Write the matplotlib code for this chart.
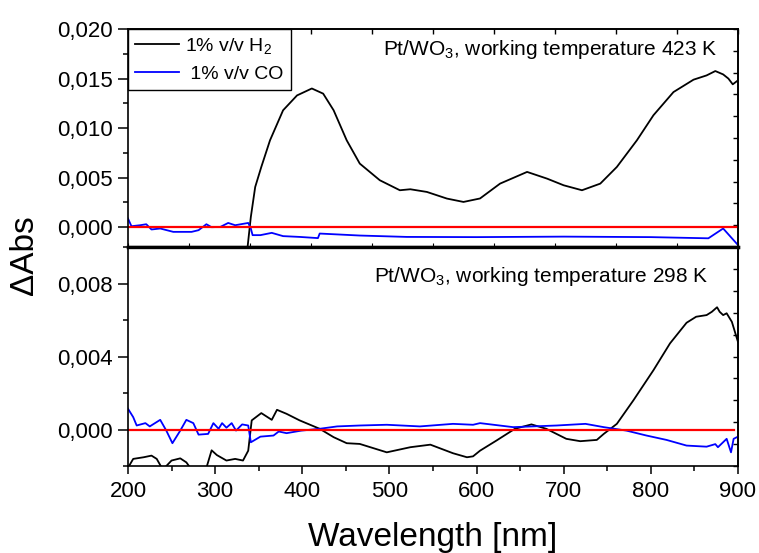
import numpy as np
import matplotlib
matplotlib.use('Agg')
import matplotlib.pyplot as plt
from matplotlib.ticker import MultipleLocator, FuncFormatter

plt.rcParams['font.family'] = ['Liberation Sans', 'DejaVu Sans']
plt.rcParams['mathtext.fontset'] = 'custom'
plt.rcParams['mathtext.rm'] = 'Liberation Sans'
plt.rcParams['mathtext.it'] = 'Liberation Sans'

# top panel, 423 K
wl_h2_hot = [337, 341, 346, 353, 363, 378, 394, 411, 424, 436, 451, 466, 489, 512, 524,
             543, 566, 585, 604, 627, 658, 681, 700, 721, 742, 761, 784, 803, 826, 849,
             864, 874, 883, 889, 894, 900]
h2_hot = [-0.0022, 0.00104, 0.00406, 0.00608, 0.00877, 0.0118, 0.0133, 0.0140, 0.01348,
          0.0118, 0.00877, 0.00642, 0.00474, 0.00373, 0.00383, 0.00356, 0.00289, 0.00255,
          0.0029, 0.0044, 0.00558, 0.0049, 0.00423, 0.00373, 0.0044, 0.00608, 0.00877,
          0.0113, 0.01364, 0.01489, 0.01532, 0.01576, 0.01542, 0.0150, 0.01442, 0.01482]

wl_co_hot = [200, 204, 214, 221, 227, 237, 252, 273, 281, 290, 296, 306, 315, 323, 338,
             341, 343, 352, 365, 378, 397, 418, 420, 443, 466, 520, 600, 700, 800, 866,
             883, 900]
co_hot = [0.00088, 0.0001, 0.0002, 0.0003, -0.00023, -0.00013, -0.00047, -0.00047,
          -0.0003, 0.0003, 0.0, 0.00003, 0.00043, 0.0002, 0.00043, -0.00013, -0.0008,
          -0.0008, -0.00057, -0.0009, -0.00098, -0.0011, -0.00064, -0.00074, -0.00084,
          -0.00098, -0.001, -0.00095, -0.001, -0.00112, -0.00013, -0.0018]

# bottom panel, 298 K
wl_h2_rt = [200, 206, 218, 227, 233, 240, 250, 260, 267, 273, 290, 296, 302, 313, 323,
            332, 338, 342, 353, 365, 371, 382, 397, 420, 436, 451, 466, 497, 524, 547,
            573, 589, 596, 604, 623, 644, 663, 680, 703, 719, 738, 746, 761, 780, 803,
            822, 841, 852, 864, 870, 876, 879, 883, 887, 893, 900]
h2_rt = [-0.0021, -0.00161, -0.00152, -0.00143, -0.00161, -0.0022, -0.0017, -0.00158,
         -0.0018, -0.0022, -0.0021, -0.00114, -0.0014, -0.0017, -0.00161, -0.0017,
         -0.00116, 0.0005, 0.0009, 0.00053, 0.00108, 0.00086, 0.0005, 0.00004, -0.00042,
         -0.00075, -0.00079, -0.00125, -0.00097, -0.00083, -0.0013, -0.00152, -0.00147,
         -0.00116, -0.0006, 0.00004, 0.00028, 0.00004, -0.00051, -0.00064, -0.00057,
         -0.00024, 0.00031, 0.0016, 0.00325, 0.00472, 0.00585, 0.00618, 0.00627, 0.00645,
         0.0067, 0.00645, 0.00627, 0.00637, 0.0059, 0.0048]

wl_co_rt = [200, 206, 210, 220, 225, 237, 244, 251, 260, 267, 275, 281, 292, 298, 304,
            308, 313, 319, 324, 331, 338, 341, 352, 367, 373, 382, 399, 420, 440, 466,
            497, 535, 573, 596, 604, 642, 692, 725, 746, 772, 795, 818, 841, 864, 874,
            877, 887, 892, 895, 900]
co_rt = [0.00114, 0.00068, 0.00022, 0.00035, 0.00017, 0.00053, -0.00006, -0.00075,
         -0.00006, 0.00053, 0.00035, -0.00028, -0.00024, 0.00035, 0.00004, 0.00035,
         0.0001, 0.00035, -0.00006, 0.00028, 0.00022, -0.0007, -0.00039, -0.00033,
         -0.00011, -0.0002, -0.00006, 0.00004, 0.00017, 0.00022, 0.00026, 0.00017,
         0.00031, 0.00026, 0.00035, 0.00013, 0.00022, 0.00031, 0.00013, -0.00006,
         -0.00033, -0.00057, -0.00088, -0.00094, -0.0008, -0.00097, -0.00051, -0.00125,
         -0.00051, -0.00039]

zero_top = [200, 900]
zero_bot = [200, 896]

comma = FuncFormatter(lambda v, p: ('%.3f' % v).replace('.', ','))

fig = plt.figure(figsize=(7.59, 5.53), dpi=100)
ax1 = fig.add_axes([0.1686, 0.5533, 0.8037, 0.3942])
ax2 = fig.add_axes([0.1686, 0.1573, 0.8037, 0.3960])

lw = 1.3
ax1.plot(wl_h2_hot, h2_hot, color='black', lw=lw, label='1% v/v H$_2$')
ax1.plot(wl_co_hot, co_hot, color='#0000ff', lw=lw, label=' 1% v/v CO')
ax1.plot(zero_top, [0, 0], color='#ff0000', lw=1.6)

ax2.plot(wl_h2_rt, h2_rt, color='black', lw=lw)
ax2.plot(wl_co_rt, co_rt, color='#0000ff', lw=lw)
ax2.plot(zero_bot, [0, 0], color='#ff0000', lw=1.6)

for ax in (ax1, ax2):
    ax.set_xlim(200, 900)
    for s in ax.spines.values():
        s.set_linewidth(1.2)
    ax.tick_params(axis='y', which='major', direction='out', length=7, width=1.1,
                   labelsize=16, pad=4)
    ax.tick_params(axis='y', which='minor', direction='out', length=3.5, width=1.1)
    ax.yaxis.set_major_formatter(comma)
    sy = ax.secondary_yaxis('right')
    lo, hi = (-0.002, 0.020) if ax is ax1 else (-0.002, 0.010)
    sy.set_yticks(np.linspace(lo, hi, 11))
    sy.set_yticklabels([])
    sy.tick_params(direction='in', length=3.5, width=1.0)
    sy.spines['right'].set_linewidth(1.2)

ax1.set_ylim(-0.002, 0.020)
ax1.yaxis.set_major_locator(MultipleLocator(0.005))
ax1.yaxis.set_minor_locator(MultipleLocator(0.0025))
ax1.set_xticks(np.linspace(200, 900, 11))
ax1.tick_params(axis='x', direction='in', length=3, labelbottom=False)
ax1.spines['bottom'].set_linewidth(2.4)
sx = ax1.secondary_xaxis('top')
sx.set_xticks(np.linspace(200, 900, 11))
sx.set_xticklabels([])
sx.tick_params(direction='in', length=3.5, width=1.0)
sx.spines['top'].set_linewidth(1.2)

ax2.set_ylim(-0.002, 0.010)
ax2.yaxis.set_major_locator(MultipleLocator(0.004))
ax2.yaxis.set_minor_locator(MultipleLocator(0.002))
ax2.xaxis.set_major_locator(MultipleLocator(100))
ax2.xaxis.set_minor_locator(MultipleLocator(50))
ax2.tick_params(axis='x', which='major', direction='out', length=6, width=1.1,
                labelsize=16, pad=5)
ax2.tick_params(axis='x', which='minor', direction='out', length=3.5, width=1.1)
ax2.spines['top'].set_linewidth(2.4)

leg = ax1.legend(loc='upper left', bbox_to_anchor=(0.0, 1.0), borderaxespad=0,
                 fontsize=14, frameon=True, fancybox=False, edgecolor='black',
                 framealpha=1, handlelength=2.3, handletextpad=0.3,
                 borderpad=0.35, labelspacing=0.5)
leg.get_frame().set_linewidth(1.0)

fig.text(717 / 759, 1 - 55 / 553, 'Pt/WO$_3$, working temperature 423 K',
         ha='right', va='baseline', fontsize=15)
fig.text(708 / 759, 1 - 282 / 553, 'Pt/WO$_3$, working temperature 298 K',
         ha='right', va='baseline', fontsize=15)

fig.text(25 / 759, 1 - 255 / 553, 'ΔAbs', rotation=90, ha='center', va='center',
         fontsize=24)
fig.text(433 / 759, 1 - 546 / 553, 'Wavelength [nm]', ha='center', va='baseline',
         fontsize=24)

fig.savefig('out.png', dpi=100)
